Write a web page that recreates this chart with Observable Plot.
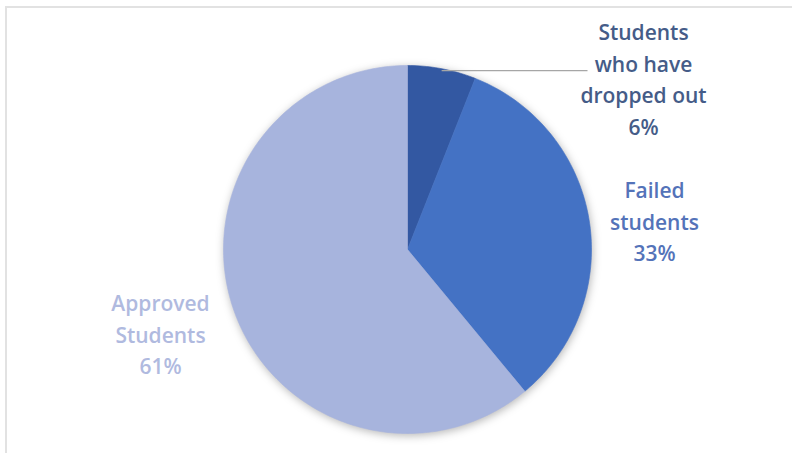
<!DOCTYPE html>
<html>
<head>
<meta charset="utf-8">
<script src="https://cdn.jsdelivr.net/npm/d3@7"></script>
<script src="https://cdn.jsdelivr.net/npm/@observablehq/plot@0.6"></script>
<style>
  html, body { margin: 0; padding: 0; background: #fff; }
  #wrap { position: relative; width: 792px; height: 453px; overflow: hidden; }
  #frame { position: absolute; left: 5px; top: 6px; width: 820px; height: 480px; border: 2px solid #e2e2e2; box-sizing: border-box; pointer-events: none; }
  #chart svg g[aria-label="line"] { filter: drop-shadow(1px 2px 4px rgba(0,0,0,0.28)); }
</style>
</head>
<body>
<div id="wrap"><div id="chart"></div><div id="frame"></div></div>
<script>
// ---- data ----
const categories = ["Students who have dropped out", "Failed students", "Approved Students"];
const labelLines = ["Students\nwho have\ndropped out", "Failed\nstudents", "Approved\nStudents"];
const values = [6, 33, 61];

// ---- styles ----
const sliceColors = ["#3358a2", "#4472c4", "#a7b4dd"];
const labelColors = ["#455c88", "#5473b9", "#b0badf"];

// ---- layout (pixels) ----
const cx = 407, cy = 249, R = 184;
const labelPx = [[643, 77], [654, 219], [160, 332]];
const leaderEndPx = 587;

const toX = px => (px - cx) / R;
const toY = py => (cy - py) / R;

// build slice polygons from values
const total = d3.sum(values);
const slices = [];
let acc = 0;
const mids = [];
values.forEach((v, i) => {
  const a0 = acc / total * 2 * Math.PI;
  acc += v;
  const a1 = acc / total * 2 * Math.PI;
  mids.push((a0 + a1) / 2);
  const n = Math.max(8, Math.ceil((a1 - a0) / (2 * Math.PI) * 360));
  slices.push({cat: categories[i], x: 0, y: 0});
  for (let k = 0; k <= n; k++) {
    const a = a0 + (a1 - a0) * k / n;
    slices.push({cat: categories[i], x: Math.sin(a), y: Math.cos(a)});
  }
  slices.push({cat: categories[i], x: 0, y: 0});
});

// leader line for the small slice
const leaderStart = {x: Math.sin(mids[0]) * 0.99, y: Math.cos(mids[0]) * 0.99};
const leader = [{x1: leaderStart.x, y1: leaderStart.y, x2: toX(leaderEndPx), y2: leaderStart.y}];

const labelMarks = categories.map((c, i) => Plot.text([{x: toX(labelPx[i][0]), y: toY(labelPx[i][1]), t: labelLines[i] + "\n" + values[i] + "%"}], {
  x: "x", y: "y", text: "t",
  fill: labelColors[i],
  fontSize: 21,
  fontWeight: 600,
  fontFamily: "'Open Sans', sans-serif",
  lineHeight: 1.5,
  textAnchor: "middle",
  lineAnchor: "middle"
}));

const chart = Plot.plot({
  width: 792,
  height: 453,
  margin: 0,
  style: {background: "transparent"},
  x: {domain: [-1, 1], range: [cx - R, cx + R], axis: null},
  y: {domain: [-1, 1], range: [cy + R, cy - R], axis: null},
  color: {type: "ordinal", domain: categories, range: sliceColors},
  marks: [
    Plot.line(slices, {x: "x", y: "y", z: "cat", fill: "cat", stroke: "cat", strokeWidth: 0.6, curve: "linear"}),
    Plot.link(leader, {x1: "x1", y1: "y1", x2: "x2", y2: "y2", stroke: "#a6a6a6", strokeWidth: 1.3}),
    ...labelMarks
  ]
});
document.getElementById("chart").appendChild(chart);
</script>
</body>
</html>
